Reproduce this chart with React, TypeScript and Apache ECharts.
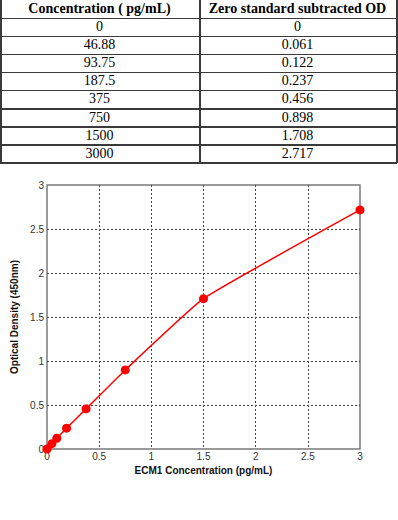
import React, { useEffect, useRef } from "react";
import * as echarts from "echarts";

const tableHeaders = ["Concentration ( pg/mL)", "Zero standard subtracted OD"];
const concentrations = ["0", "46.88", "93.75", "187.5", "375", "750", "1500", "3000"];
const odValues = ["0", "0.061", "0.122", "0.237", "0.456", "0.898", "1.708", "2.717"];
const xAxisTitle = "ECM1 Concentration (pg/mL)";
const yAxisTitle = "Optical Density (450nm)";

const HEADER_H = 18;
const ROW_H = 18.1;
const COL_X = [0, 199, 396];
const LINE = "#3a3a3a";

function Table() {
  const rows = [tableHeaders, ...concentrations.map((c, i) => [c, odValues[i]])];
  const cells: React.ReactNode[] = [];
  rows.forEach((r, ri) => {
    const top = ri === 0 ? 0 : HEADER_H + (ri - 1) * ROW_H;
    const h = ri === 0 ? HEADER_H : ROW_H;
    r.forEach((t, ci) => {
      cells.push(
        <div
          key={ri + "-" + ci}
          style={{
            position: "absolute",
            left: COL_X[ci],
            top,
            width: COL_X[ci + 1] - COL_X[ci],
            height: h,
            lineHeight: h + "px",
            textAlign: "center",
            fontFamily: "'Liberation Serif', 'Times New Roman', serif",
            fontSize: 14,
            fontWeight: ri === 0 ? "bold" : "normal",
            color: "#000",
            whiteSpace: "nowrap",
          }}
        >
          {t}
        </div>
      );
    });
  });
  const lines: React.ReactNode[] = [];
  for (let i = 0; i <= concentrations.length; i++) {
    const y = HEADER_H + i * ROW_H;
    lines.push(
      <div key={"h" + i} style={{ position: "absolute", left: 0, top: y - 0.5, width: COL_X[2] + 1, height: 1.5, background: LINE }} />
    );
  }
  COL_X.forEach((x, i) => {
    lines.push(
      <div key={"v" + i} style={{ position: "absolute", left: x, top: 0, width: 1.5, height: HEADER_H + concentrations.length * ROW_H, background: LINE }} />
    );
  });
  return (
    <div style={{ position: "absolute", left: 0, top: 0, width: 398, height: 165 }}>
      {cells}
      {lines}
    </div>
  );
}

export default function App() {
  const ref = useRef<HTMLDivElement>(null);
  useEffect(() => {
    if (!ref.current) return;
    const chart = echarts.init(ref.current, undefined, { renderer: "svg" });
    const data = concentrations.map((c, i) => [Number(c) / 1000, Number(odValues[i])]);
    const gridLine = { show: true, showMinLine: false, showMaxLine: false, lineStyle: { color: "#444", type: [2, 2], width: 1 } };
    const label = { color: "#333", fontSize: 10, fontFamily: "'Liberation Sans', Arial, sans-serif" };
    const nameStyle = { color: "#111", fontSize: 10, fontWeight: "bold", fontFamily: "'Liberation Sans', Arial, sans-serif" };
    chart.setOption({
      animation: false,
      grid: { left: 47, right: 38, top: 20, bottom: 71, show: true, borderColor: "#7a7a7a", borderWidth: 1.5 },
      xAxis: {
        type: "value",
        min: 0,
        max: 3,
        interval: 0.5,
        name: xAxisTitle,
        nameLocation: "middle",
        nameGap: 12,
        nameTextStyle: nameStyle,
        axisLine: { show: false },
        axisTick: { show: false },
        axisLabel: { ...label, margin: 2 },
        splitLine: gridLine,
      },
      yAxis: {
        type: "value",
        min: 0,
        max: 3,
        interval: 0.5,
        name: yAxisTitle,
        nameLocation: "middle",
        nameGap: 18,
        nameTextStyle: nameStyle,
        axisLine: { show: false },
        axisTick: { show: false },
        axisLabel: { ...label, margin: 3 },
        splitLine: gridLine,
      },
      series: [
        {
          type: "line",
          data,
          smooth: 0.12,
          symbol: "circle",
          symbolSize: 9,
          lineStyle: { color: "#ff0000", width: 1.5 },
          itemStyle: { color: "#ff0000" },
        },
      ],
    });
    return () => chart.dispose();
  }, []);
  return (
    <div style={{ position: "absolute", left: 0, top: 0, width: 398, height: 520, background: "#fff" }}>
      <Table />
      <div ref={ref} style={{ position: "absolute", left: 0, top: 165, width: 398, height: 355 }} />
    </div>
  );
}
